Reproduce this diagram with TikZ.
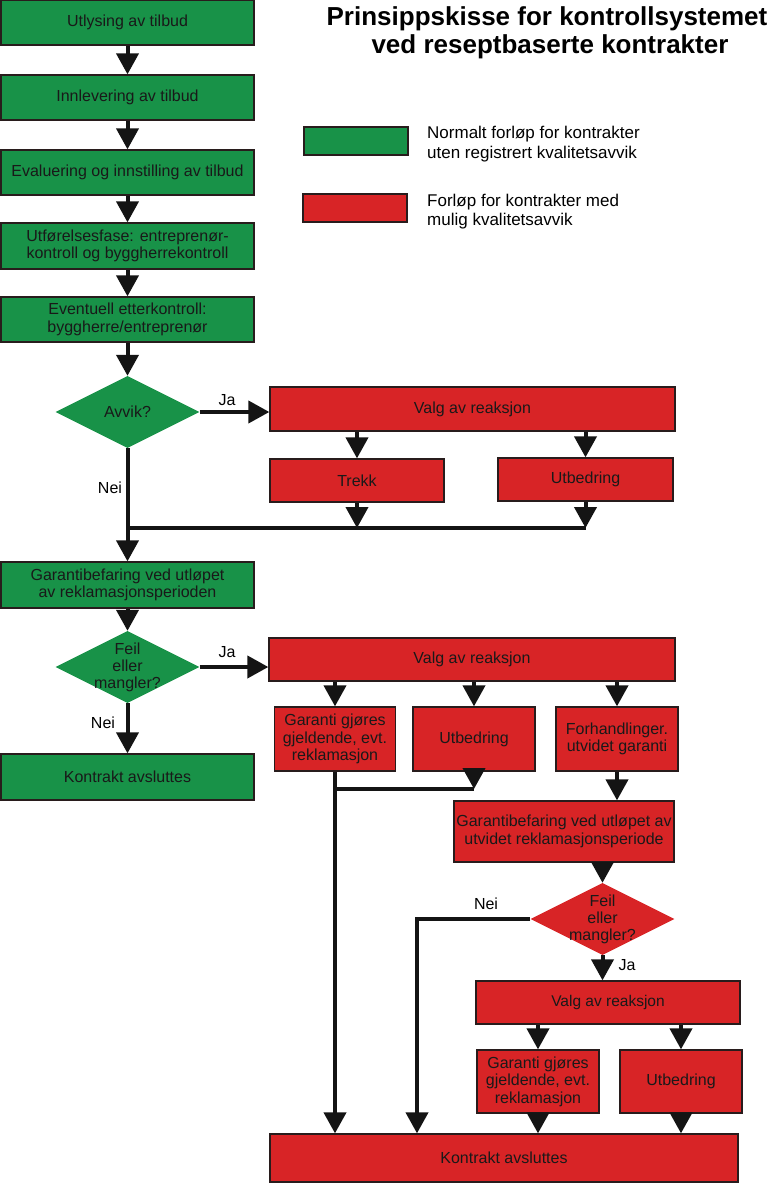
\documentclass[tikz,border=0pt]{standalone}
\usepackage{fontspec}
\setmainfont{Liberation Sans}
\usetikzlibrary{arrows.meta,shapes.geometric}
\definecolor{gfill}{RGB}{24,146,72}
\definecolor{rfill}{RGB}{216,36,38}
\definecolor{edge}{RGB}{40,28,28}
\begin{document}
\begin{tikzpicture}[x=1pt,y=-1pt,
  box/.style={rectangle, draw=edge, line width=1.3pt, text=black!90, align=center,
    font=\fontsize{16}{17.5}\selectfont, inner sep=1pt},
  gbox/.style={box, fill=gfill},
  rbox/.style={box, fill=rfill},
  dia/.style={diamond, draw=none, inner sep=0pt, minimum width=144pt, minimum height=72pt},
  gdia/.style={dia, fill=gfill},
  rdia/.style={dia, fill=rfill},
  dtext/.style={text=black!90, align=center, font=\fontsize{16}{17}\selectfont, inner sep=0pt},
  lbl/.style={text=black, font=\fontsize{16}{18}\selectfont, inner sep=0pt},
  leg/.style={anchor=base west, text=black, font=\fontsize{17}{20}\selectfont, inner sep=0pt},
  ttl/.style={anchor=base, text=black, font=\bfseries\fontsize{26}{28}\selectfont, inner sep=0pt},
  conn/.style={draw=black!92, line width=4pt},
  arr/.style={conn, -{Triangle[width=22pt,length=21pt]}}
]
\useasboundingbox (0,0) rectangle (770,1183);
\fill[white] (0,0) rectangle (770,1183);

% title
\node[ttl] (tt1) at (547,25) {Prinsippskisse for kontrollsystemet};
\node[ttl] (tt2) at (550,53) {ved reseptbaserte kontrakter};

% legend
\node[box, fill=gfill, minimum width=104pt, minimum height=28pt] (lg) at (356,141) {};
\node[box, fill=rfill, minimum width=104pt, minimum height=28pt] (lr) at (355,208) {};
\node[leg] (lg1) at (427,138) {Normalt forløp for kontrakter};
\node[leg] (lg2) at (427,158) {uten registrert kvalitetsavvik};
\node[leg] (lr1) at (427,206) {Forløp for kontrakter med};
\node[leg] (lr2) at (427,225) {mulig kvalitetsavvik};

% left column
\node[gbox, minimum width=253pt, minimum height=45pt] (n1) at (127.5,22.5) {Utlysing av tilbud};
\node[gbox, minimum width=253pt, minimum height=45pt] (n2) at (127.5,97.5) {Innlevering av tilbud};
\node[gbox, minimum width=253pt, minimum height=45pt] (n3) at (127.5,172.5) {Evaluering og innstilling av tilbud};
\node[gbox, minimum width=253pt, minimum height=46pt] (n4) at (127.5,246) {Utførelsesfase: entreprenør-\\kontroll og byggherrekontroll};
\node[gbox, minimum width=253pt, minimum height=45pt] (n5) at (127.5,319.5) {Eventuell etterkontroll:\\byggherre/entreprenør};
\node[gdia] (d1) at (127.5,412) {};
\node[dtext] (d1t) at (d1) {Avvik?};

\node[rbox, minimum width=405pt, minimum height=44pt] (v1) at (472.5,409) {Valg av reaksjon};
\node[rbox, minimum width=174pt, minimum height=43pt] (t1) at (357,480.5) {Trekk};
\node[rbox, minimum width=175pt, minimum height=43pt] (u1) at (585.5,479.5) {Utbedring};
\coordinate (m1) at (127.5,528);

\node[gbox, minimum width=253pt, minimum height=46pt] (g6) at (127.5,585) {Garantibefaring ved utløpet\\av reklamasjonsperioden};
\node[gdia] (d2) at (127.5,667) {};
\node[dtext] (d2t) at (d2) {Feil\\eller\\mangler?};
\node[gbox, minimum width=253pt, minimum height=46pt] (g7) at (127.5,777) {Kontrakt avsluttes};

\node[rbox, minimum width=406pt, minimum height=43pt] (v2) at (472,659.5) {Valg av reaksjon};
\node[rbox, minimum width=121pt, minimum height=64pt] (b1) at (335,739) {Garanti gjøres\\gjeldende, evt.\\reklamasjon};
\node[rbox, minimum width=122pt, minimum height=64pt] (b2) at (474,739) {Utbedring};
\node[rbox, minimum width=122pt, minimum height=64pt] (b3) at (617,739) {Forhandlinger.\\utvidet garanti};
\coordinate (m2) at (335,789);
\node[rbox, minimum width=220pt, minimum height=61pt] (g8) at (564,831.5) {Garantibefaring ved utløpet av\\utvidet reklamasjonsperiode};

\node[rdia] (d3) at (602.5,919) {};
\node[dtext] (d3t) at (d3) {Feil\\eller\\mangler?};
\coordinate (c3) at (417,919);
\node[rbox, minimum width=264pt, minimum height=43pt, font=\fontsize{15.5}{17}\selectfont] (v3) at (608,1002.5) {Valg av reaksjon};
\node[rbox, minimum width=122pt, minimum height=63pt] (b4) at (538,1081.5) {Garanti gjøres\\gjeldende, evt.\\reklamasjon};
\node[rbox, minimum width=122pt, minimum height=63pt] (b5) at (681,1081.5) {Utbedring};
\node[rbox, minimum width=468pt, minimum height=48pt] (k2) at (504,1158) {Kontrakt avsluttes};

% labels
\node[lbl] (ja1) at (227,400) {Ja};
\node[lbl] (nei1) at (110,488) {Nei};
\node[lbl] (ja2) at (227,652) {Ja};
\node[lbl] (nei2) at (103,723) {Nei};
\node[lbl] (nei3) at (486,904) {Nei};
\node[lbl] (ja3) at (627,965) {Ja};

% connectors
\draw[arr] (n1.south) -- (n2.north);
\draw[arr] (n2.south) -- (n3.north);
\draw[arr] (n3.south) -- (n4.north);
\draw[arr] (n4.south) -- (n5.north);
\draw[arr] (n5.south) -- (d1.north);
\draw[arr] (d1.east) -- (d1.east -| v1.west);
\draw[arr] (v1.south -| t1) -- (t1.north);
\draw[arr] (v1.south -| u1) -- (u1.north);
\draw[arr] (t1.south) -- (t1.south |- m1);
\draw[arr] (u1.south) -- (u1.south |- m1);
\draw[conn] (m1) -- (m1 -| u1);
\draw[arr] (d1.south) -- (g6.north);
\draw[arr] (g6.south) -- (d2.north);
\draw[arr] (d2.east) -- (d2.east -| v2.west);
\draw[arr] (d2.south) -- (g7.north);
\draw[arr] (v2.south -| b1) -- (b1.north);
\draw[arr] (v2.south -| b2) -- (b2.north);
\draw[arr] (v2.south -| b3) -- (b3.north);
\draw[arr] (b2.south) -- (b2.south |- m2);
\draw[conn] (m2) -- (m2 -| b2);
\draw[arr] (b1.south) -- (b1.south |- k2.north);
\draw[arr] (b3.south) -- (b3.south |- g8.north);
\draw[arr] (d3.north |- g8.south) -- (d3.north);
\draw[arr, line join=miter] (d3.west) -- (c3) -- (c3 |- k2.north);
\draw[arr] (d3.south) -- (d3.south |- v3.north);
\draw[arr] (v3.south -| b4) -- (b4.north);
\draw[arr] (v3.south -| b5) -- (b5.north);
\draw[arr] (b4.south) -- (b4.south |- k2.north);
\draw[arr] (b5.south) -- (b5.south |- k2.north);
\end{tikzpicture}
\end{document}
